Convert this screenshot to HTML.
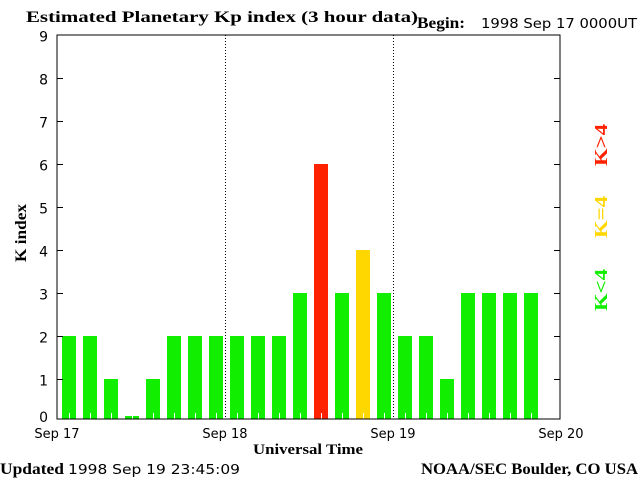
<!DOCTYPE html>
<html><head><meta charset="utf-8"><style>
body{margin:0;background:#fff;}
svg{display:block;}
.s{font-family:"Liberation Serif",serif;font-weight:bold;}
.m{font-family:"DejaVu Sans","Liberation Sans",sans-serif;}
</style></head><body>
<svg id="c" width="640" height="480" viewBox="0 0 640 480">
<text class="s" x="26" y="22" font-size="16" textLength="392" lengthAdjust="spacingAndGlyphs">Estimated Planetary Kp index (3 hour data)</text>
<text class="s" x="417" y="28" font-size="16" textLength="48" lengthAdjust="spacingAndGlyphs">Begin:</text>
<text class="m" x="481" y="28" font-size="13" textLength="156" lengthAdjust="spacingAndGlyphs">1998 Sep 17 0000UT</text>
<g id="bars"></g>
<g id="axes"></g>
<text class="s" x="26" y="233" font-size="16" transform="rotate(-90 26 233)" text-anchor="middle" textLength="58" lengthAdjust="spacingAndGlyphs">K index</text>
<text class="s" x="253" y="454" font-size="15" textLength="110" lengthAdjust="spacingAndGlyphs">Universal Time</text>
<text class="s" x="0" y="474" font-size="16" textLength="64" lengthAdjust="spacingAndGlyphs">Updated</text>
<text class="m" x="68" y="474" font-size="13" textLength="172" lengthAdjust="spacingAndGlyphs">1998 Sep 19 23:45:09</text>
<text class="s" x="421" y="474" font-size="16" textLength="217" lengthAdjust="spacingAndGlyphs">NOAA/SEC Boulder, CO USA</text>
<text class="s" x="607" y="145" font-size="18" fill="#ff2200" transform="rotate(-90 607 145)" text-anchor="middle" textLength="42" lengthAdjust="spacingAndGlyphs">K&gt;4</text>
<text class="s" x="607" y="217" font-size="18" fill="#ffd700" transform="rotate(-90 607 217)" text-anchor="middle" textLength="42" lengthAdjust="spacingAndGlyphs">K=4</text>
<text class="s" x="607" y="290" font-size="18" fill="#11ee00" transform="rotate(-90 607 290)" text-anchor="middle" textLength="42" lengthAdjust="spacingAndGlyphs">K&lt;4</text>
</svg>
<script>
const kpValues=[2,2,1,0,1,2,2,2, 2,2,2,3,6,3,4,3, 2,2,1,3,3,3,3];
const yTicks=[0,1,2,3,4,5,6,7,8,9];
const dayLabels=["Sep 17","Sep 18","Sep 19","Sep 20"];
const NS="http://www.w3.org/2000/svg";
const L=57,R=560,T=35,B=419;
function x(i){return L+i*21;}
function y(v){return 422-43*v;}
function mk(t,a,p){const e=document.createElementNS(NS,t);for(const k in a)e.setAttribute(k,a[k]);p.appendChild(e);return e;}
const bars=document.getElementById('bars'),ax=document.getElementById('axes');
kpValues.forEach((v,i)=>{
  const col=v>4?'#ff2200':(v==4?'#ffd700':'#11ee00');
  let top=Math.min(y(v),B-3);
  const r=mk('rect',{x:x(i)+5,y:top,width:14,height:B-top,fill:col},bars);
  
  
  const t=mk('line',{x1:x(i)+12.5,x2:x(i)+12.5,y1:B-6,y2:B,stroke:'#fff'},bars);
  
  
});
const fr=mk('rect',{x:L,y:T,width:R-L,height:B-T,fill:'none',stroke:'#000'},ax);


[1,2].forEach(d=>{
  const l=mk('line',{x1:x(d*8)+.5,x2:x(d*8)+.5,y1:T,y2:B,stroke:'#000','stroke-dasharray':'1 2'},ax);
  
  
});
yTicks.forEach(v=>{
  const yy=Math.round(y(v))+.5;
  if(v>0&&v<9){
    mk('line',{x1:L,x2:L+6,y1:yy,y2:yy,stroke:'#000'},ax);
    mk('line',{x1:R-6,x2:R,y1:yy,y2:yy,stroke:'#000'},ax);
  }
  const t=mk('text',{x:48,y:Math.min(yy,416)+6,'font-size':14,'text-anchor':'end','class':'m'},ax);
  t.textContent=v;
  
  
});
dayLabels.forEach((s,d)=>{
  const t=mk('text',{x:x(d*8),y:438,'font-size':13,'text-anchor':'middle','class':'m'},ax);
  t.textContent=s;
  
  
});
</script>
</body></html>
